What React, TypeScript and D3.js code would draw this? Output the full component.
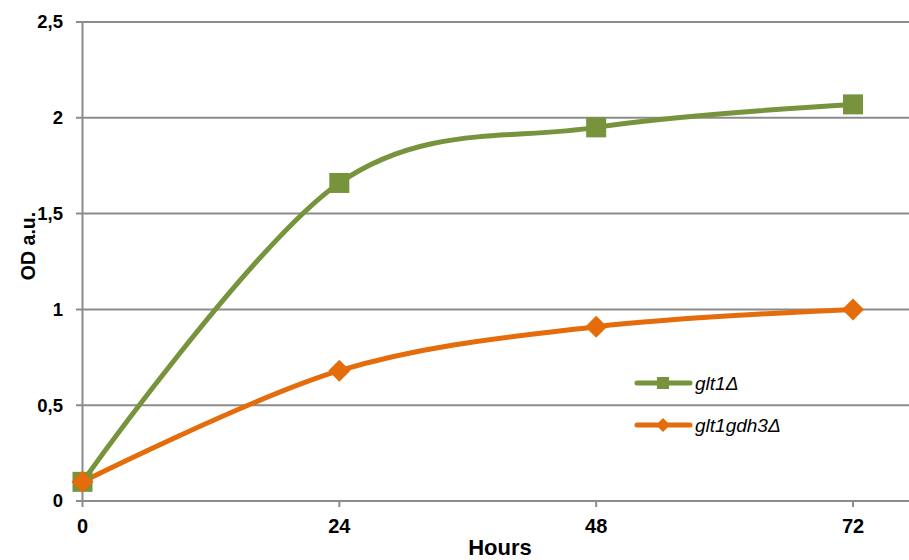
import React from "react";
import * as d3 from "d3";

const hours = [0, 24, 48, 72];
const glt1 = [0.1, 1.66, 1.95, 2.07];
const glt1gdh3 = [0.1, 0.68, 0.91, 1.0];
const yTicks = [0, 0.5, 1, 1.5, 2, 2.5];
const yTickLabels = ["0", "0,5", "1", "1,5", "2", "2,5"];
const seriesNames = ["glt1Δ", "glt1gdh3Δ"];

const W = 909;
const H = 560;
const GREEN = "#77933C";
const ORANGE = "#E46C0A";
const GRID = "#8c8c8c";

export default function App() {
  const x = d3.scaleLinear().domain([0, 72]).range([82.5, 853]);
  const y = d3.scaleLinear().domain([0, 2.5]).range([501, 22]);
  const line = d3
    .line<number>()
    .x((_, i) => x(hours[i]))
    .y((d) => y(d))
    .curve(d3.curveCardinal.tension(0));

  const font = "'Liberation Sans', Arial, sans-serif";
  const diamond = (cx: number, cy: number, r: number) =>
    `M${cx},${cy - r}L${cx + r},${cy}L${cx},${cy + r}L${cx - r},${cy}Z`;

  return (
    <div style={{ position: "absolute", left: 0, top: 0 }}>
      <svg width={W} height={H} style={{ display: "block", background: "#fff" }}>
        {/* grid lines */}
        {yTicks.map((t, i) => (
          <g key={"g" + i}>
            <line x1={76} x2={W} y1={y(t)} y2={y(t)} stroke={GRID} strokeWidth={2} />
            <text
              x={63}
              y={y(t)}
              dy="0.35em"
              textAnchor="end"
              fontFamily={font}
              fontWeight="bold"
              fontSize={18.5}
              fill="#000"
            >
              {yTickLabels[i]}
            </text>
          </g>
        ))}
        {/* y axis */}
        <line x1={x(0)} x2={x(0)} y1={y(2.5)} y2={y(0)} stroke={GRID} strokeWidth={2} />
        {/* x ticks */}
        {hours.map((h) => (
          <g key={"x" + h}>
            <line x1={x(h)} x2={x(h)} y1={y(0)} y2={y(0) + 6} stroke={GRID} strokeWidth={2} />
            <text
              x={x(h)}
              y={533}
              textAnchor="middle"
              fontFamily={font}
              fontWeight="bold"
              fontSize={20}
              fill="#000"
            >
              {h}
            </text>
          </g>
        ))}
        {/* axis titles */}
        <text
          x={500}
          y={555}
          textAnchor="middle"
          fontFamily={font}
          fontWeight="bold"
          fontSize={22}
          fill="#000"
        >
          Hours
        </text>
        <text
          transform={`translate(35,246) rotate(-90)`}
          textAnchor="middle"
          fontFamily={font}
          fontWeight="bold"
          fontSize={19.5}
          fill="#000"
        >
          OD a.u.
        </text>
        {/* series lines */}
        <path d={line(glt1) || ""} fill="none" stroke={GREEN} strokeWidth={5} strokeLinejoin="round" />
        <path d={line(glt1gdh3) || ""} fill="none" stroke={ORANGE} strokeWidth={5} strokeLinejoin="round" />
        {/* markers */}
        {glt1.map((v, i) => (
          <rect key={"s" + i} x={x(hours[i]) - 10} y={y(v) - 10} width={20} height={20} fill={GREEN} />
        ))}
        {glt1gdh3.map((v, i) => (
          <path key={"d" + i} d={diamond(x(hours[i]), y(v), 11)} fill={ORANGE} />
        ))}
        {/* legend */}
        <g>
          <line x1={637} x2={690} y1={383} y2={383} stroke={GREEN} strokeWidth={5} strokeLinecap="round" />
          <rect x={657} y={377} width={12} height={12} fill={GREEN} />
          <text x={695} y={383} dy="0.35em" fontFamily={font} fontStyle="italic" fontSize={19} fill="#000">
            {seriesNames[0]}
          </text>
          <line x1={637} x2={690} y1={425} y2={425} stroke={ORANGE} strokeWidth={5} strokeLinecap="round" />
          <path d={diamond(663, 425, 7)} fill={ORANGE} />
          <text x={695} y={425} dy="0.35em" fontFamily={font} fontStyle="italic" fontSize={19} fill="#000">
            {seriesNames[1]}
          </text>
        </g>
      </svg>
    </div>
  );
}
